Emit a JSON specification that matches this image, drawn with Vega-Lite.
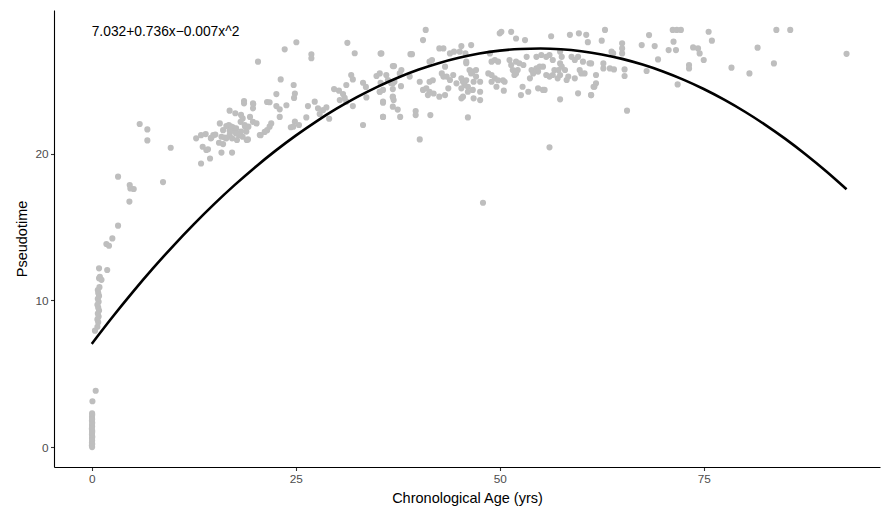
{
  "$schema": "https://vega.github.io/schema/vega-lite/v6.json",
  "autosize": {"type": "none"},
  "width": 826,
  "height": 457,
  "padding": {"left": 54, "top": 10, "right": 1, "bottom": 46},
  "background": "white",
  "datasets": {
    "cells": [
      {"age": 0.05, "pseudotime": 0.0}, {"age": 0.02, "pseudotime": 0.1}, {"age": 0.06, "pseudotime": 0.2},
      {"age": 0.03, "pseudotime": 0.3}, {"age": 0.05, "pseudotime": 0.45}, {"age": 0.04, "pseudotime": 0.6},
      {"age": 0.07, "pseudotime": 0.7}, {"age": 0.03, "pseudotime": 0.85}, {"age": 0.05, "pseudotime": 1.0},
      {"age": 0.06, "pseudotime": 1.1}, {"age": 0.02, "pseudotime": 1.25}, {"age": 0.05, "pseudotime": 1.4},
      {"age": 0.04, "pseudotime": 1.5}, {"age": 0.06, "pseudotime": 1.65}, {"age": 0.03, "pseudotime": 1.8},
      {"age": 0.05, "pseudotime": 1.9}, {"age": 0.04, "pseudotime": 2.05}, {"age": 0.06, "pseudotime": 2.2},
      {"age": 0.05, "pseudotime": 2.3}, {"age": 0.09, "pseudotime": 3.12}, {"age": 0.49, "pseudotime": 3.84},
      {"age": 0.4, "pseudotime": 7.93}, {"age": 0.7, "pseudotime": 8.2}, {"age": 0.8, "pseudotime": 8.5},
      {"age": 0.7, "pseudotime": 8.7}, {"age": 0.85, "pseudotime": 8.9}, {"age": 0.75, "pseudotime": 9.1},
      {"age": 0.9, "pseudotime": 9.3}, {"age": 0.8, "pseudotime": 9.5}, {"age": 0.7, "pseudotime": 9.7},
      {"age": 0.85, "pseudotime": 9.9}, {"age": 0.75, "pseudotime": 10.1}, {"age": 0.9, "pseudotime": 10.3},
      {"age": 0.8, "pseudotime": 10.5}, {"age": 0.75, "pseudotime": 10.7}, {"age": 0.95, "pseudotime": 10.9},
      {"age": 0.9, "pseudotime": 11.5}, {"age": 1.2, "pseudotime": 11.4}, {"age": 1.0, "pseudotime": 11.6},
      {"age": 0.9, "pseudotime": 12.18}, {"age": 1.9, "pseudotime": 12.07},
      {"age": 1.8, "pseudotime": 13.84}, {"age": 2.12, "pseudotime": 13.72}, {"age": 2.53, "pseudotime": 14.22},
      {"age": 3.23, "pseudotime": 15.09}, {"age": 4.62, "pseudotime": 16.73}, {"age": 4.66, "pseudotime": 17.86},
      {"age": 4.74, "pseudotime": 17.63}, {"age": 5.15, "pseudotime": 17.59}, {"age": 3.23, "pseudotime": 18.43},
      {"age": 8.74, "pseudotime": 18.06}, {"age": 9.68, "pseudotime": 20.4}, {"age": 5.88, "pseudotime": 22.02},
      {"age": 6.82, "pseudotime": 21.65}, {"age": 6.82, "pseudotime": 20.9},
      {"age": 12.8, "pseudotime": 21.04}, {"age": 13.4, "pseudotime": 21.26}, {"age": 13.97, "pseudotime": 21.33},
      {"age": 14.9, "pseudotime": 21.26}, {"age": 14.6, "pseudotime": 21.04}, {"age": 15.6, "pseudotime": 20.74},
      {"age": 16.1, "pseudotime": 20.65}, {"age": 13.6, "pseudotime": 20.47}, {"age": 14.05, "pseudotime": 20.25},
      {"age": 15.9, "pseudotime": 20.07}, {"age": 17.2, "pseudotime": 20.07}, {"age": 14.5, "pseudotime": 19.67},
      {"age": 13.4, "pseudotime": 19.33}, {"age": 15.7, "pseudotime": 22.06}, {"age": 16.1, "pseudotime": 21.6},
      {"age": 16.8, "pseudotime": 21.95}, {"age": 17.3, "pseudotime": 21.8}, {"age": 17.5, "pseudotime": 21.5},
      {"age": 16.9, "pseudotime": 21.26}, {"age": 18.05, "pseudotime": 21.26}, {"age": 18.5, "pseudotime": 21.15},
      {"age": 19.0, "pseudotime": 20.93}, {"age": 17.8, "pseudotime": 20.93}, {"age": 17.2, "pseudotime": 21.04},
      {"age": 16.5, "pseudotime": 21.04}, {"age": 18.67, "pseudotime": 23.59}, {"age": 18.67, "pseudotime": 23.43},
      {"age": 19.77, "pseudotime": 23.43}, {"age": 19.77, "pseudotime": 23.09}, {"age": 16.9, "pseudotime": 22.93},
      {"age": 17.6, "pseudotime": 22.75}, {"age": 18.3, "pseudotime": 22.64}, {"age": 18.5, "pseudotime": 22.4},
      {"age": 18.25, "pseudotime": 22.17}, {"age": 19.4, "pseudotime": 22.5}, {"age": 19.76, "pseudotime": 22.17},
      {"age": 18.8, "pseudotime": 21.84}, {"age": 19.2, "pseudotime": 21.84},
      {"age": 16.5, "pseudotime": 21.88}, {"age": 17.1, "pseudotime": 21.84}, {"age": 17.7, "pseudotime": 21.72},
      {"age": 16.9, "pseudotime": 21.56}, {"age": 17.7, "pseudotime": 21.38}, {"age": 18.3, "pseudotime": 21.5},
      {"age": 18.75, "pseudotime": 21.95}, {"age": 18.95, "pseudotime": 21.5}, {"age": 19.15, "pseudotime": 20.97},
      {"age": 14.65, "pseudotime": 21.08}, {"age": 15.15, "pseudotime": 21.3}, {"age": 15.9, "pseudotime": 21.15},
      {"age": 16.3, "pseudotime": 21.1}, {"age": 14.25, "pseudotime": 20.3}, {"age": 20.6, "pseudotime": 21.27},
      {"age": 19.8, "pseudotime": 23.38},
      {"age": 20.38, "pseudotime": 26.27}, {"age": 21.49, "pseudotime": 23.52}, {"age": 21.8, "pseudotime": 23.5},
      {"age": 22.63, "pseudotime": 23.24}, {"age": 23.04, "pseudotime": 23.02}, {"age": 23.86, "pseudotime": 23.3},
      {"age": 21.8, "pseudotime": 21.84}, {"age": 21.5, "pseudotime": 21.6}, {"age": 21.2, "pseudotime": 21.48},
      {"age": 22.0, "pseudotime": 22.06}, {"age": 20.7, "pseudotime": 21.26}, {"age": 20.2, "pseudotime": 22.06},
      {"age": 23.04, "pseudotime": 22.5}, {"age": 25.08, "pseudotime": 27.59}, {"age": 23.65, "pseudotime": 27.11},
      {"age": 26.92, "pseudotime": 26.77}, {"age": 26.92, "pseudotime": 26.5}, {"age": 31.33, "pseudotime": 27.55},
      {"age": 32.23, "pseudotime": 26.84}, {"age": 35.4, "pseudotime": 26.82}, {"age": 37.05, "pseudotime": 25.97},
      {"age": 23.16, "pseudotime": 25.06}, {"age": 24.75, "pseudotime": 24.68}, {"age": 22.63, "pseudotime": 24.06},
      {"age": 24.9, "pseudotime": 24.1}, {"age": 24.8, "pseudotime": 23.8}, {"age": 26.5, "pseudotime": 23.24},
      {"age": 27.73, "pseudotime": 23.09}, {"age": 28.35, "pseudotime": 22.97}, {"age": 28.76, "pseudotime": 23.15},
      {"age": 27.94, "pseudotime": 22.7}, {"age": 27.33, "pseudotime": 23.54}, {"age": 29.7, "pseudotime": 24.4},
      {"age": 30.3, "pseudotime": 24.29}, {"age": 30.8, "pseudotime": 24.06}, {"age": 31.0, "pseudotime": 23.8},
      {"age": 30.4, "pseudotime": 23.65}, {"age": 31.2, "pseudotime": 23.54}, {"age": 31.8, "pseudotime": 25.36},
      {"age": 32.0, "pseudotime": 25.06}, {"age": 31.2, "pseudotime": 24.68}, {"age": 33.25, "pseudotime": 24.83},
      {"age": 33.6, "pseudotime": 24.55}, {"age": 34.9, "pseudotime": 25.29}, {"age": 35.4, "pseudotime": 24.83},
      {"age": 36.7, "pseudotime": 24.8}, {"age": 36.9, "pseudotime": 24.4}, {"age": 37.1, "pseudotime": 24.9},
      {"age": 35.3, "pseudotime": 24.22}, {"age": 33.66, "pseudotime": 23.83}, {"age": 35.7, "pseudotime": 23.47},
      {"age": 36.9, "pseudotime": 23.85}, {"age": 36.9, "pseudotime": 23.2}, {"age": 32.0, "pseudotime": 23.24},
      {"age": 35.7, "pseudotime": 22.5}, {"age": 33.25, "pseudotime": 21.95}, {"age": 29.1, "pseudotime": 22.38},
      {"age": 26.3, "pseudotime": 22.47}, {"age": 24.9, "pseudotime": 22.18}, {"age": 25.4, "pseudotime": 21.95},
      {"age": 24.7, "pseudotime": 21.84}, {"age": 24.4, "pseudotime": 21.8},
      {"age": 40.93, "pseudotime": 28.43}, {"age": 40.6, "pseudotime": 27.74}, {"age": 50.0, "pseudotime": 28.2},
      {"age": 50.2, "pseudotime": 28.3}, {"age": 51.4, "pseudotime": 28.3}, {"age": 52.0, "pseudotime": 27.85},
      {"age": 53.1, "pseudotime": 27.74}, {"age": 56.3, "pseudotime": 28.0}, {"age": 58.6, "pseudotime": 28.1},
      {"age": 59.7, "pseudotime": 28.2}, {"age": 60.6, "pseudotime": 28.1}, {"age": 60.8, "pseudotime": 27.6},
      {"age": 35.5, "pseudotime": 26.83}, {"age": 39.06, "pseudotime": 26.78}, {"age": 39.25, "pseudotime": 26.78},
      {"age": 42.6, "pseudotime": 27.17}, {"age": 43.1, "pseudotime": 27.17}, {"age": 43.9, "pseudotime": 26.83},
      {"age": 44.4, "pseudotime": 26.95}, {"age": 45.1, "pseudotime": 26.95}, {"age": 45.3, "pseudotime": 27.33},
      {"age": 46.5, "pseudotime": 27.4}, {"age": 45.8, "pseudotime": 26.83}, {"age": 36.9, "pseudotime": 25.97},
      {"age": 35.3, "pseudotime": 25.47}, {"age": 36.1, "pseudotime": 25.36}, {"age": 36.3, "pseudotime": 25.02},
      {"age": 37.95, "pseudotime": 25.7}, {"age": 37.75, "pseudotime": 25.47}, {"age": 38.97, "pseudotime": 25.25},
      {"age": 40.2, "pseudotime": 24.9}, {"age": 37.9, "pseudotime": 24.6}, {"age": 36.9, "pseudotime": 24.8},
      {"age": 35.7, "pseudotime": 24.34}, {"age": 35.3, "pseudotime": 24.22}, {"age": 35.7, "pseudotime": 23.55},
      {"age": 36.9, "pseudotime": 23.88}, {"age": 37.0, "pseudotime": 23.65}, {"age": 37.5, "pseudotime": 23.0},
      {"age": 37.8, "pseudotime": 22.5}, {"age": 35.7, "pseudotime": 22.5}, {"age": 39.7, "pseudotime": 22.9},
      {"age": 39.7, "pseudotime": 22.63}, {"age": 41.5, "pseudotime": 22.63}, {"age": 40.2, "pseudotime": 20.97},
      {"age": 46.1, "pseudotime": 22.47}, {"age": 41.4, "pseudotime": 26.27}, {"age": 41.7, "pseudotime": 26.38},
      {"age": 42.9, "pseudotime": 25.47}, {"age": 43.1, "pseudotime": 25.25}, {"age": 41.4, "pseudotime": 24.9},
      {"age": 41.8, "pseudotime": 25.0}, {"age": 40.6, "pseudotime": 24.34}, {"age": 41.0, "pseudotime": 24.45},
      {"age": 41.4, "pseudotime": 24.22}, {"age": 41.9, "pseudotime": 24.1}, {"age": 41.2, "pseudotime": 23.99},
      {"age": 42.6, "pseudotime": 23.88}, {"age": 43.3, "pseudotime": 23.99}, {"age": 43.7, "pseudotime": 24.45},
      {"age": 43.5, "pseudotime": 25.25}, {"age": 43.9, "pseudotime": 25.02}, {"age": 44.3, "pseudotime": 25.36},
      {"age": 43.3, "pseudotime": 25.93}, {"age": 44.7, "pseudotime": 24.79}, {"age": 45.3, "pseudotime": 25.13},
      {"age": 45.5, "pseudotime": 24.9}, {"age": 45.9, "pseudotime": 25.0}, {"age": 45.7, "pseudotime": 24.68},
      {"age": 45.3, "pseudotime": 24.45}, {"age": 45.3, "pseudotime": 23.77}, {"age": 45.5, "pseudotime": 23.88},
      {"age": 45.9, "pseudotime": 26.27}, {"age": 45.9, "pseudotime": 26.16}, {"age": 46.3, "pseudotime": 25.7},
      {"age": 46.7, "pseudotime": 25.59}, {"age": 47.1, "pseudotime": 25.7}, {"age": 46.5, "pseudotime": 25.47},
      {"age": 47.1, "pseudotime": 25.25}, {"age": 46.8, "pseudotime": 24.9}, {"age": 47.6, "pseudotime": 24.9},
      {"age": 46.1, "pseudotime": 24.56}, {"age": 46.7, "pseudotime": 24.34}, {"age": 46.1, "pseudotime": 24.22},
      {"age": 47.6, "pseudotime": 24.22}, {"age": 46.8, "pseudotime": 23.77}, {"age": 47.6, "pseudotime": 23.65},
      {"age": 48.8, "pseudotime": 26.83}, {"age": 49.0, "pseudotime": 26.27}, {"age": 49.4, "pseudotime": 26.38},
      {"age": 49.8, "pseudotime": 26.27}, {"age": 48.6, "pseudotime": 25.47}, {"age": 49.0, "pseudotime": 25.36},
      {"age": 49.4, "pseudotime": 25.13}, {"age": 49.8, "pseudotime": 25.0}, {"age": 49.0, "pseudotime": 24.9},
      {"age": 50.4, "pseudotime": 25.0}, {"age": 50.6, "pseudotime": 24.9}, {"age": 49.6, "pseudotime": 24.56},
      {"age": 50.5, "pseudotime": 24.29}, {"age": 51.2, "pseudotime": 26.38}, {"age": 51.4, "pseudotime": 26.04},
      {"age": 52.0, "pseudotime": 26.27}, {"age": 52.4, "pseudotime": 26.16}, {"age": 52.2, "pseudotime": 25.7},
      {"age": 51.6, "pseudotime": 25.7}, {"age": 52.9, "pseudotime": 26.04}, {"age": 53.3, "pseudotime": 26.6},
      {"age": 51.8, "pseudotime": 25.36}, {"age": 52.0, "pseudotime": 25.47}, {"age": 52.8, "pseudotime": 24.56},
      {"age": 52.6, "pseudotime": 23.99}, {"age": 53.5, "pseudotime": 24.22}, {"age": 53.9, "pseudotime": 25.7},
      {"age": 54.5, "pseudotime": 25.81}, {"age": 54.9, "pseudotime": 25.93}, {"age": 55.3, "pseudotime": 25.93},
      {"age": 54.7, "pseudotime": 25.59}, {"age": 54.1, "pseudotime": 25.47}, {"age": 53.7, "pseudotime": 25.13},
      {"age": 54.7, "pseudotime": 24.45}, {"age": 55.3, "pseudotime": 24.34}, {"age": 54.5, "pseudotime": 26.6},
      {"age": 55.1, "pseudotime": 26.72}, {"age": 55.7, "pseudotime": 26.6}, {"age": 56.1, "pseudotime": 26.72},
      {"age": 56.5, "pseudotime": 26.38}, {"age": 55.7, "pseudotime": 25.36}, {"age": 56.1, "pseudotime": 25.25},
      {"age": 56.5, "pseudotime": 25.36}, {"age": 57.1, "pseudotime": 25.13}, {"age": 56.7, "pseudotime": 25.7},
      {"age": 57.4, "pseudotime": 26.95}, {"age": 57.6, "pseudotime": 26.6}, {"age": 57.4, "pseudotime": 26.15},
      {"age": 57.6, "pseudotime": 25.93}, {"age": 57.2, "pseudotime": 25.7}, {"age": 58.0, "pseudotime": 25.7},
      {"age": 58.4, "pseudotime": 25.25}, {"age": 58.2, "pseudotime": 25.02}, {"age": 57.4, "pseudotime": 25.36},
      {"age": 58.8, "pseudotime": 26.6}, {"age": 59.2, "pseudotime": 26.38}, {"age": 59.6, "pseudotime": 26.6},
      {"age": 60.2, "pseudotime": 26.27}, {"age": 59.8, "pseudotime": 25.7}, {"age": 60.0, "pseudotime": 25.47},
      {"age": 60.4, "pseudotime": 25.47}, {"age": 61.0, "pseudotime": 26.16}, {"age": 59.2, "pseudotime": 25.13},
      {"age": 57.4, "pseudotime": 23.7}, {"age": 59.6, "pseudotime": 24.11}, {"age": 61.2, "pseudotime": 23.99},
      {"age": 61.8, "pseudotime": 24.79}, {"age": 61.6, "pseudotime": 24.56}, {"age": 56.1, "pseudotime": 20.43},
      {"age": 55.5, "pseudotime": 24.34}, {"age": 47.95, "pseudotime": 16.65},
      {"age": 62.9, "pseudotime": 28.43}, {"age": 62.5, "pseudotime": 27.7}, {"age": 65.0, "pseudotime": 27.52},
      {"age": 65.0, "pseudotime": 27.17}, {"age": 65.0, "pseudotime": 26.83}, {"age": 63.7, "pseudotime": 26.95},
      {"age": 63.9, "pseudotime": 26.83}, {"age": 68.3, "pseudotime": 28.08}, {"age": 67.4, "pseudotime": 27.4},
      {"age": 68.99, "pseudotime": 27.33}, {"age": 71.2, "pseudotime": 28.43}, {"age": 71.7, "pseudotime": 28.43},
      {"age": 72.2, "pseudotime": 28.43}, {"age": 71.3, "pseudotime": 27.63}, {"age": 70.7, "pseudotime": 27.06},
      {"age": 71.6, "pseudotime": 27.06}, {"age": 73.7, "pseudotime": 27.24}, {"age": 74.3, "pseudotime": 27.17},
      {"age": 74.5, "pseudotime": 26.83}, {"age": 75.6, "pseudotime": 28.31}, {"age": 76.0, "pseudotime": 27.7},
      {"age": 75.0, "pseudotime": 26.38}, {"age": 73.2, "pseudotime": 26.04}, {"age": 73.2, "pseudotime": 25.81},
      {"age": 69.4, "pseudotime": 26.42}, {"age": 68.0, "pseudotime": 25.63}, {"age": 71.8, "pseudotime": 24.72},
      {"age": 65.6, "pseudotime": 22.93}, {"age": 65.3, "pseudotime": 25.74}, {"age": 65.3, "pseudotime": 25.29},
      {"age": 63.5, "pseudotime": 25.81}, {"age": 64.0, "pseudotime": 25.74}, {"age": 62.7, "pseudotime": 25.81},
      {"age": 62.7, "pseudotime": 26.15}, {"age": 61.2, "pseudotime": 26.15}, {"age": 61.8, "pseudotime": 25.36},
      {"age": 61.5, "pseudotime": 24.56}, {"age": 61.2, "pseudotime": 23.99}, {"age": 78.4, "pseudotime": 25.86},
      {"age": 80.6, "pseudotime": 25.47}, {"age": 81.6, "pseudotime": 27.22}, {"age": 83.6, "pseudotime": 26.15},
      {"age": 83.9, "pseudotime": 28.43}, {"age": 85.6, "pseudotime": 28.43}, {"age": 92.5, "pseudotime": 26.8}
    ],
    "fit": [
      {"age": 0, "pseudotime": 7.032}, {"age": 2.5, "pseudotime": 8.83}, {"age": 5, "pseudotime": 10.544},
      {"age": 7.5, "pseudotime": 12.174}, {"age": 10, "pseudotime": 13.72}, {"age": 12.5, "pseudotime": 15.181},
      {"age": 15, "pseudotime": 16.559}, {"age": 17.5, "pseudotime": 17.853}, {"age": 20, "pseudotime": 19.062},
      {"age": 22.5, "pseudotime": 20.188}, {"age": 25, "pseudotime": 21.229}, {"age": 27.5, "pseudotime": 22.186},
      {"age": 30, "pseudotime": 23.06}, {"age": 32.5, "pseudotime": 23.849}, {"age": 35, "pseudotime": 24.554},
      {"age": 37.5, "pseudotime": 25.175}, {"age": 40, "pseudotime": 25.712}, {"age": 42.5, "pseudotime": 26.165},
      {"age": 45, "pseudotime": 26.534}, {"age": 47.5, "pseudotime": 26.819}, {"age": 50, "pseudotime": 27.02},
      {"age": 52.5, "pseudotime": 27.136}, {"age": 55, "pseudotime": 27.169}, {"age": 57.5, "pseudotime": 27.117},
      {"age": 60, "pseudotime": 26.982}, {"age": 62.5, "pseudotime": 26.763}, {"age": 65, "pseudotime": 26.459},
      {"age": 67.5, "pseudotime": 26.071}, {"age": 70, "pseudotime": 25.6}, {"age": 72.5, "pseudotime": 25.044},
      {"age": 75, "pseudotime": 24.404}, {"age": 77.5, "pseudotime": 23.68}, {"age": 80, "pseudotime": 22.872},
      {"age": 82.5, "pseudotime": 21.98}, {"age": 85, "pseudotime": 21.004}, {"age": 87.5, "pseudotime": 19.944},
      {"age": 90, "pseudotime": 18.8}, {"age": 92.5, "pseudotime": 17.571}
    ],
    "equation": [
      {"age": 0, "pseudotime": 28.3, "label": "7.032+0.736x−0.007x^2"}
    ]
  },
  "encoding": {
    "x": {
      "field": "age",
      "type": "quantitative",
      "scale": {"domain": [-4.62, 96.6], "nice": false, "zero": false},
      "axis": {
        "values": [0, 25, 50, 75],
        "title": "Chronological Age (yrs)",
        "titleY": 35,
        "titleBaseline": "alphabetic"
      }
    },
    "y": {
      "field": "pseudotime",
      "type": "quantitative",
      "scale": {"domain": [-1.36, 29.79], "nice": false, "zero": false},
      "axis": {
        "values": [0, 10, 20],
        "title": "Pseudotime",
        "titleX": -32,
        "titleY": 228.5,
        "titleBaseline": "middle",
        "titleAlign": "center"
      }
    }
  },
  "layer": [
    {
      "data": {"name": "cells"},
      "mark": {"type": "circle", "size": 38, "color": "#BEBEBE", "opacity": 1}
    },
    {
      "data": {"name": "fit"},
      "mark": {"type": "line", "color": "black", "strokeWidth": 2.6, "interpolate": "monotone"}
    },
    {
      "data": {"name": "equation"},
      "mark": {"type": "text", "align": "left", "baseline": "middle", "fontSize": 13.8, "font": "Liberation Sans", "color": "black"},
      "encoding": {"text": {"field": "label"}}
    }
  ],
  "config": {
    "view": {"stroke": null},
    "axis": {
      "grid": false,
      "domainColor": "black",
      "domainWidth": 1.1,
      "tickColor": "#333333",
      "tickWidth": 1.1,
      "tickSize": 3.5,
      "labelColor": "#4D4D4D",
      "labelFont": "Liberation Sans",
      "labelFontSize": 11.8,
      "labelPadding": 2.5,
      "titleFont": "Liberation Sans",
      "titleFontSize": 14.5,
      "titleFontWeight": "normal",
      "titleColor": "black"
    }
  }
}
